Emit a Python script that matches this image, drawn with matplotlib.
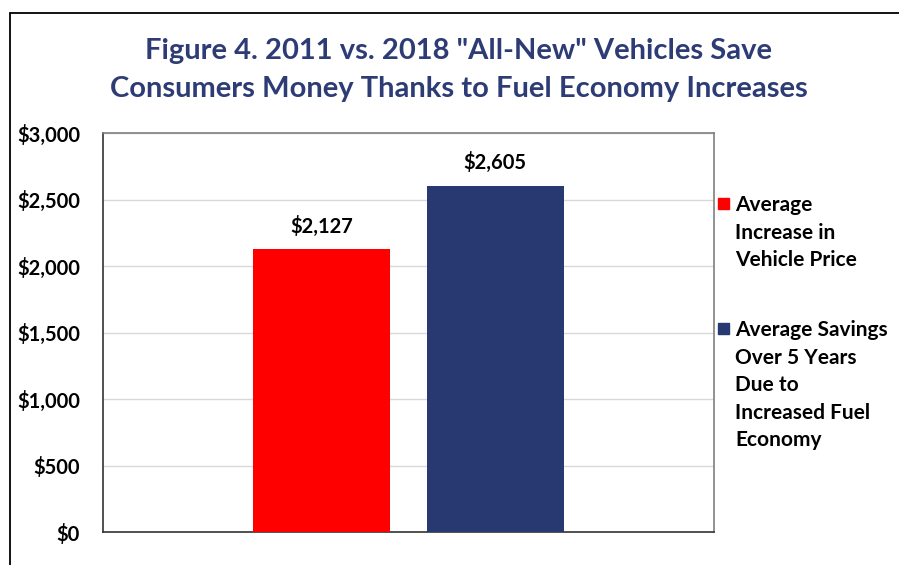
import matplotlib
matplotlib.use("Agg")
import matplotlib.pyplot as plt
from matplotlib.patches import Rectangle
from matplotlib.ticker import FuncFormatter

series_labels = ["Average\nIncrease in\nVehicle Price",
                 "Average Savings\nOver 5 Years\nDue to\nIncreased Fuel\nEconomy"]
values = [2127, 2605]
colors = ["#FF0000", "#283870"]
yticks = [0, 500, 1000, 1500, 2000, 2500, 3000]
title = 'Figure 4. 2011 vs. 2018 "All-New" Vehicles Save\nConsumers Money Thanks to Fuel Economy Increases'

W, H = 899, 565
fig = plt.figure(figsize=(W / 100, H / 100), dpi=100)
FONT = ["Lato", "DejaVu Sans"]
plt.rcParams['font.family'] = FONT

# outer frame (chart area border)
fig.patches.append(Rectangle((10 / W, -0.1), 1.2, (H - 13) / H + 0.1, transform=fig.transFigure,
                             fill=False, edgecolor="black", linewidth=1.3, zorder=0))

ax = fig.add_axes([103 / W, (H - 532) / H, (714 - 103) / W, (532 - 133) / H])
offsets = [-0.142, 0.142]
width = 0.224
for off, v, c in zip(offsets, values, colors):
    ax.bar(off, v, width=width, color=c, zorder=3)
    ax.annotate(f"${v:,}", (off, v), xytext=(0, 9), textcoords="offset points",
                ha="center", va="bottom", fontsize=14.5, fontweight="bold", color="black")

ax.set_xlim(-0.5, 0.5)
ax.set_ylim(0, 3000)
ax.set_yticks(yticks)
ax.yaxis.set_major_formatter(FuncFormatter(lambda v, p: f"${int(v):,}"))
ax.set_xticks([])
ax.tick_params(axis="y", length=0, pad=16.5, labelsize=14.5)
for lab in ax.get_yticklabels():
    lab.set_fontweight("bold")
ax.grid(axis="y", color="#D9D9D9", linewidth=1, zorder=0)
for s in ["top", "right"]:
    ax.spines[s].set_color("#7F7F7F")
    ax.spines[s].set_linewidth(1.2)
for s in ["left", "bottom"]:
    ax.spines[s].set_color("#333333")
    ax.spines[s].set_linewidth(1.2)

fig.text(459 / W, 1 - 70 / H, title, ha="center", va="center", fontsize=21,
         fontweight="bold", color="#2E3C76", linespacing=1.58)

# legend
leg_tops = [204, 329]
for lab, c, ty in zip(series_labels, colors, leg_tops):
    fig.patches.append(Rectangle((718 / W, 1 - (ty + 5) / H), 11 / W, 11 / H,
                                 transform=fig.transFigure, color=c))
    fig.text(735 / W, 1 - (ty - 9) / H, lab, ha="left", va="top", fontsize=15,
             fontweight="bold", color="black", linespacing=1.47)

fig.savefig("out.png", dpi=100)
